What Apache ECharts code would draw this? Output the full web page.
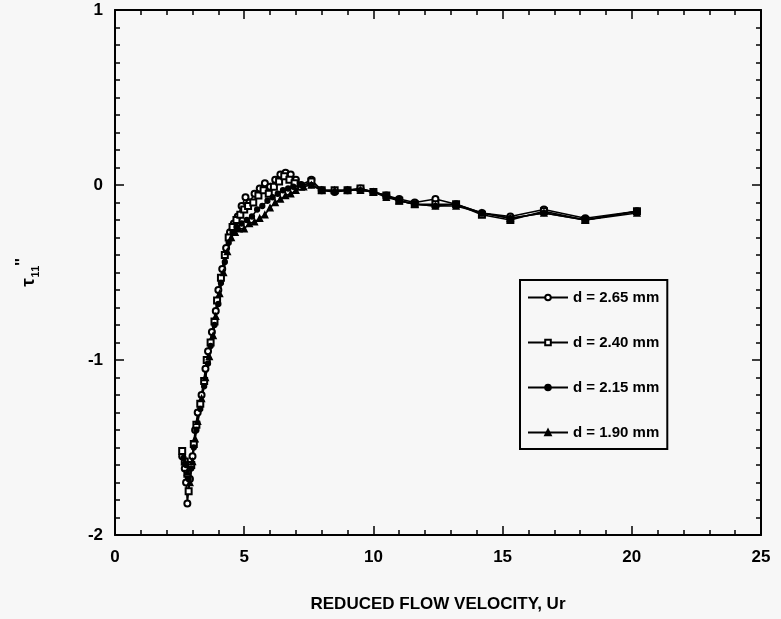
<!DOCTYPE html>
<html>
<head>
<meta charset="utf-8">
<script src="https://cdn.jsdelivr.net/npm/echarts@6/dist/echarts.min.js"></script>
<style>
html,body{margin:0;padding:0;background:#f7f7f7;}
#chart{width:781px;height:619px;}
</style>
</head>
<body>
<div id="chart"></div>
<script>
// Series names
const seriesNames = ['d = 2.65 mm', 'd = 2.40 mm', 'd = 2.15 mm', 'd = 1.90 mm'];

// Reduced flow velocity Ur vs tau11'' for each wire diameter
const d265 = [[2.6,-1.55],[2.7,-1.62],[2.75,-1.70],[2.8,-1.82],[2.9,-1.68],[3.0,-1.55],[3.1,-1.40],[3.2,-1.30],[3.35,-1.20],[3.5,-1.05],[3.6,-0.95],[3.75,-0.84],[3.9,-0.72],[4.0,-0.60],[4.15,-0.48],[4.3,-0.36],[4.45,-0.27],[4.6,-0.22],[4.75,-0.18],[4.9,-0.12],[5.05,-0.07],[5.2,-0.10],[5.4,-0.05],[5.6,-0.02],[5.8,0.01],[6.0,-0.01],[6.2,0.03],[6.4,0.06],[6.6,0.07],[6.8,0.06],[7.0,0.03],[7.2,0.0],[7.6,0.03],[8.0,-0.03],[8.5,-0.04],[9.0,-0.03],[9.5,-0.02],[10.0,-0.04],[10.5,-0.06],[11.0,-0.08],[11.6,-0.10],[12.4,-0.08],[13.2,-0.11],[14.2,-0.16],[15.3,-0.18],[16.6,-0.14],[18.2,-0.19],[20.2,-0.15]];
const d240 = [[2.6,-1.52],[2.7,-1.58],[2.8,-1.65],[2.85,-1.75],[2.95,-1.60],[3.05,-1.48],[3.15,-1.37],[3.3,-1.25],[3.45,-1.12],[3.55,-1.00],[3.7,-0.90],[3.85,-0.78],[3.95,-0.66],[4.1,-0.53],[4.25,-0.40],[4.4,-0.30],[4.55,-0.24],[4.7,-0.20],[4.85,-0.17],[5.0,-0.14],[5.15,-0.12],[5.35,-0.10],[5.55,-0.06],[5.75,-0.03],[5.95,-0.05],[6.15,-0.01],[6.35,0.02],[6.55,0.05],[6.75,0.03],[6.95,0.01],[7.2,-0.01],[7.6,0.02],[8.0,-0.03],[8.5,-0.03],[9.0,-0.03],[9.5,-0.02],[10.0,-0.04],[10.5,-0.06],[11.0,-0.09],[11.6,-0.11],[12.4,-0.11],[13.2,-0.11],[14.2,-0.17],[15.3,-0.20],[16.6,-0.15],[18.2,-0.20],[20.2,-0.15]];
const d215 = [[2.65,-1.56],[2.75,-1.60],[2.85,-1.68],[2.95,-1.62],[3.05,-1.50],[3.15,-1.40],[3.3,-1.28],[3.45,-1.15],[3.6,-1.02],[3.7,-0.92],[3.85,-0.80],[4.0,-0.68],[4.1,-0.56],[4.25,-0.44],[4.4,-0.33],[4.55,-0.27],[4.7,-0.24],[4.9,-0.22],[5.1,-0.20],[5.3,-0.18],[5.5,-0.14],[5.7,-0.12],[5.9,-0.09],[6.1,-0.07],[6.3,-0.05],[6.5,-0.03],[6.7,-0.02],[6.9,-0.01],[7.2,0.0],[7.6,0.0],[8.0,-0.03],[8.5,-0.04],[9.0,-0.03],[9.5,-0.03],[10.0,-0.04],[10.5,-0.06],[11.0,-0.09],[11.6,-0.11],[12.4,-0.12],[13.2,-0.11],[14.2,-0.16],[15.3,-0.19],[16.6,-0.16],[18.2,-0.20],[20.2,-0.15]];
const d190 = [[2.7,-1.58],[2.8,-1.64],[2.9,-1.70],[3.0,-1.58],[3.1,-1.45],[3.2,-1.35],[3.35,-1.22],[3.5,-1.10],[3.65,-0.98],[3.8,-0.86],[3.9,-0.75],[4.05,-0.62],[4.2,-0.50],[4.35,-0.38],[4.5,-0.30],[4.65,-0.27],[4.8,-0.25],[5.0,-0.25],[5.2,-0.22],[5.4,-0.21],[5.6,-0.19],[5.8,-0.17],[6.0,-0.13],[6.2,-0.10],[6.4,-0.08],[6.6,-0.06],[6.8,-0.05],[7.0,-0.03],[7.3,-0.01],[7.6,0.0],[8.0,-0.03],[8.5,-0.03],[9.0,-0.03],[9.5,-0.03],[10.0,-0.04],[10.5,-0.07],[11.0,-0.09],[11.6,-0.11],[12.4,-0.12],[13.2,-0.12],[14.2,-0.16],[15.3,-0.19],[16.6,-0.16],[18.2,-0.20],[20.2,-0.16]];

const xTickLabels = ['0','5','10','15','20','25'];
const yTickLabels = ['-2','-1','0','1'];

const FONT = 'Arial, "Liberation Sans", Helvetica, sans-serif';
const chart = echarts.init(document.getElementById('chart'), null, {renderer:'canvas'});

function mkSeries(name, data, symbol, size) {
  return {
    name: name, type: 'line', data: data,
    symbol: symbol, symbolSize: size,
    lineStyle: {color: '#000', width: 1.5},
    itemStyle: {color: '#000', borderColor: '#000', borderWidth: 1.3},
    emphasis: {disabled: true},
    animation: false
  };
}

const axisCommon = {
  axisLine: {show: true, onZero: false, lineStyle: {color: '#000', width: 2}},
  splitLine: {show: false},
};

chart.setOption({
  backgroundColor: '#f7f7f7',
  animation: false,
  grid: {left: 115, right: 20, top: 10, bottom: 84},
  legend: {
    data: seriesNames,
    orient: 'vertical',
    left: 520, top: 280,
    padding: [9, 8, 8, 7],
    itemGap: 28, itemWidth: 40, itemHeight: 7,
    borderColor: '#000', borderWidth: 2,
    backgroundColor: '#f7f7f7',
    textStyle: {fontFamily: FONT, fontSize: 15, fontWeight: 'bold', color: '#000', lineHeight: 17},
    selectedMode: false
  },
  xAxis: [
    Object.assign({}, axisCommon, {
      type: 'value', min: 0, max: 25, interval: 5, position: 'bottom',
      name: 'REDUCED FLOW VELOCITY, Ur', nameLocation: 'middle', nameGap: 61,
      nameTextStyle: {fontFamily: FONT, fontSize: 17, fontWeight: 'bold', color: '#000'},
      axisTick: {show: true, inside: true, length: 9, lineStyle: {color: '#000', width: 1.5}},
      minorTick: {show: true, splitNumber: 5, length: 5, lineStyle: {color: '#000', width: 1.5}},
      axisLabel: {fontFamily: FONT, fontSize: 17, fontWeight: 'bold', color: '#000', margin: 14,
        formatter: v => xTickLabels[Math.round(v / 5)] }
    }),
    Object.assign({}, axisCommon, {
      type: 'value', min: 0, max: 25, interval: 5, position: 'top',
      axisTick: {show: true, inside: true, length: 9, lineStyle: {color: '#000', width: 1.5}},
      minorTick: {show: true, splitNumber: 5, length: 5, lineStyle: {color: '#000', width: 1.5}},
      axisLabel: {show: false}
    })
  ],
  yAxis: [
    Object.assign({}, axisCommon, {
      type: 'value', min: -2, max: 1, interval: 1, position: 'left',
      name: '{t|τ}{s|11}{p|\'\'}', nameLocation: 'middle', nameGap: 72, nameRotate: 90,
      nameTextStyle: {
        rich: {
          t: {fontFamily: FONT, fontSize: 19, fontWeight: 'bold', color: '#000'},
          s: {fontFamily: FONT, fontSize: 11, fontWeight: 'bold', color: '#000', padding: [14, 0, 0, 1]},
          p: {fontFamily: FONT, fontSize: 16, fontWeight: 'bold', color: '#000', padding: [0, 0, 12, 0]}
        }
      },
      axisTick: {show: true, inside: true, length: 9, lineStyle: {color: '#000', width: 1.5}},
      minorTick: {show: true, splitNumber: 10, length: 5, lineStyle: {color: '#000', width: 1.5}},
      axisLabel: {fontFamily: FONT, fontSize: 17, fontWeight: 'bold', color: '#000', margin: 12,
        formatter: v => yTickLabels[Math.round(v + 2)] }
    }),
    Object.assign({}, axisCommon, {
      type: 'value', min: -2, max: 1, interval: 1, position: 'right',
      axisTick: {show: true, inside: true, length: 9, lineStyle: {color: '#000', width: 1.5}},
      minorTick: {show: true, splitNumber: 10, length: 5, lineStyle: {color: '#000', width: 1.5}},
      axisLabel: {show: false}
    })
  ],
  series: [
    mkSeries(seriesNames[0], d265, 'emptyCircle', 6),
    mkSeries(seriesNames[1], d240, 'emptyRect', 6),
    mkSeries(seriesNames[2], d215, 'circle', 5),
    mkSeries(seriesNames[3], d190, 'triangle', 6)
  ]
});
</script>
</body>
</html>
